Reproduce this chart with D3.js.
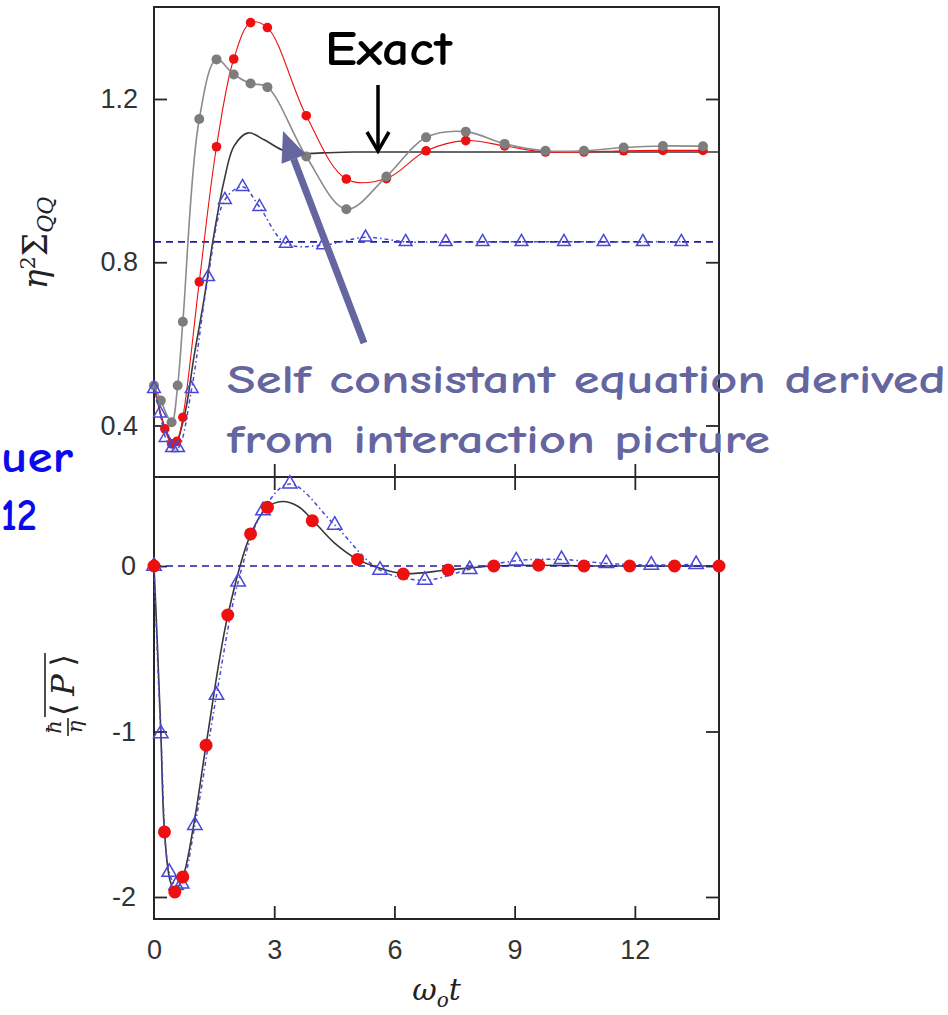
<!DOCTYPE html>
<html>
<head>
<meta charset="utf-8">
<script src="https://cdn.jsdelivr.net/npm/d3@7"></script>
<style>
  html, body { margin: 0; padding: 0; background: #fff; }
  svg { display: block; }
</style>
</head>
<body>
<svg id="chart" width="948" height="1015"></svg>
<script>
// ---------------- DATA ----------------
const xTicks = [0, 3, 6, 9, 12];
const topYTicks = [0.4, 0.8, 1.2];
const botYTicks = [0, -1, -2];

// Top panel: exact (black solid line)
const topExactT = [0, 0.25, 0.5, 0.75, 1.0, 1.25, 1.5, 1.75, 2.0, 2.35, 2.75, 3.2, 3.6, 4.2, 5, 6, 8, 10, 12, 14.1];
const topExactV = [0.5, 0.4, 0.35, 0.42, 0.57, 0.71, 0.87, 1.0, 1.085, 1.117, 1.1, 1.075, 1.066, 1.068, 1.07, 1.07, 1.07, 1.07, 1.07, 1.07];

// Top panel: gray circles
const topGrayT = [0, 0.17, 0.44, 0.59, 0.72, 1.13, 1.56, 1.99, 2.41, 2.83, 3.80, 4.80, 5.80, 6.79, 7.78, 8.75, 9.77, 10.73, 11.72, 12.70, 13.70];
const topGrayV = [0.498, 0.461, 0.408, 0.498, 0.654, 1.151, 1.297, 1.26, 1.238, 1.229, 1.059, 0.930, 1.01, 1.106, 1.12, 1.09, 1.073, 1.073, 1.081, 1.085, 1.084];

// Top panel: red circles
const topRedT = [0, 0.27, 0.44, 0.57, 0.72, 1.13, 1.56, 1.99, 2.41, 2.83, 3.80, 4.80, 5.80, 6.79, 7.78, 8.75, 9.77, 10.73, 11.72, 12.70, 13.70];
const topRedV = [0.5, 0.392, 0.355, 0.361, 0.42, 0.752, 1.083, 1.298, 1.387, 1.375, 1.159, 1.004, 1.005, 1.073, 1.098, 1.085, 1.07, 1.07, 1.073, 1.074, 1.074];

// Top panel: blue triangles
const topTriT = [0, 0.15, 0.29, 0.45, 0.6, 0.94, 1.35, 1.77, 2.21, 2.63, 3.29, 4.22, 5.28, 6.28, 7.28, 8.2, 9.17, 10.23, 11.22, 12.2, 13.16];
const topTriV = [0.49, 0.43, 0.37, 0.345, 0.345, 0.49, 0.764, 0.953, 0.985, 0.936, 0.846, 0.842, 0.861, 0.85, 0.85, 0.85, 0.85, 0.85, 0.85, 0.85, 0.85];
const topDashLevel = 0.85;

// Bottom panel: exact (black solid line)
const botExactT = [0, 0.08, 0.17, 0.26, 0.4, 0.52, 0.72, 1.0, 1.3, 1.84, 2.41, 2.83, 3.2, 3.6, 3.95, 4.5, 5.08, 5.6, 6.22, 7.34, 8.48, 9.6, 11, 12.5, 14.1];
const botExactV = [0, -0.45, -1.0, -1.6, -1.9, -1.96, -1.88, -1.55, -1.08, -0.3, 0.19, 0.355, 0.39, 0.36, 0.28, 0.14, 0.04, -0.01, -0.045, -0.024, 0, 0.005, 0, 0, 0];

// Bottom panel: red circles
const botRedT = [0, 0.26, 0.52, 0.72, 1.30, 1.84, 2.41, 2.83, 3.95, 5.08, 6.22, 7.34, 8.48, 9.6, 10.73, 11.87, 12.99, 14.1];
const botRedV = [0, -1.607, -1.97, -1.879, -1.083, -0.296, 0.194, 0.355, 0.274, 0.04, -0.048, -0.024, 0, 0.005, 0, 0, 0, 0];

// Bottom panel: blue triangles
const botTriT = [0, 0.17, 0.38, 0.55, 0.69, 1.02, 1.56, 2.10, 2.72, 3.39, 4.51, 5.64, 6.76, 7.88, 9.04, 10.17, 11.29, 12.41, 13.53];
const botTriV = [0, -1.012, -1.85, -1.93, -1.92, -1.567, -0.78, -0.095, 0.335, 0.496, 0.248, -0.024, -0.085, -0.02, 0.032, 0.04, 0.016, 0.006, 0.01];
const botDashLevel = 0;

// ---------------- LAYOUT ----------------
const L = 154, R = 719;
const topPanel = { top: 7, bottom: 477 };
const botPanel = { top: 477, bottom: 919 };

const zip = (t, v) => t.map((d, i) => ({ t: d, v: v[i] }));

const svg = d3.select("#chart");

const x = d3.scaleLinear().domain([0, 14.1]).range([L, R]);
const yTop = d3.scaleLinear().domain([0.2738, 1.4254]).range([topPanel.bottom, topPanel.top]);
const yBot = d3.scaleLinear().domain([-2.133, 0.538]).range([botPanel.bottom, botPanel.top]);

const COL = {
  frame: "#262626",
  tickText: "#333",
  black: "#383838",
  gray: "#7d7d7d",
  red: "#ee1010",
  tri: "#4848d8",
  navy: "#1e1ea0",
  annot: "#65669f",
  blue: "#0a0aee"
};

function styleAxis(g, showText) {
  g.select(".domain").remove();
  g.selectAll(".tick line").attr("stroke", COL.frame).attr("stroke-width", 1.8);
  g.selectAll(".tick text")
    .attr("fill", COL.tickText)
    .style("font-family", "'Liberation Sans', Arial, sans-serif")
    .style("font-size", "27px");
  if (!showText) g.selectAll(".tick text").remove();
}

// ---- Top panel axes ----
svg.append("g").attr("transform", `translate(${L},0)`)
  .call(d3.axisLeft(yTop).tickValues(topYTicks).tickSizeInner(-13).tickSizeOuter(0).tickPadding(16).tickFormat(d3.format(".1f")))
  .call(g => styleAxis(g, true));
svg.append("g").attr("transform", `translate(${R},0)`)
  .call(d3.axisRight(yTop).tickValues(topYTicks).tickSizeInner(-13).tickSizeOuter(0))
  .call(g => styleAxis(g, false));
svg.append("g").attr("transform", `translate(0,${topPanel.bottom})`)
  .call(d3.axisBottom(x).tickValues(xTicks.filter(d => d > 0)).tickSizeInner(-13).tickSizeOuter(0))
  .call(g => styleAxis(g, false));

// ---- Bottom panel axes ----
svg.append("g").attr("transform", `translate(${L},0)`)
  .call(d3.axisLeft(yBot).tickValues(botYTicks).tickSizeInner(-13).tickSizeOuter(0).tickPadding(18).tickFormat(d => String(d)))
  .call(g => styleAxis(g, true));
svg.append("g").attr("transform", `translate(${R},0)`)
  .call(d3.axisRight(yBot).tickValues(botYTicks).tickSizeInner(-13).tickSizeOuter(0))
  .call(g => styleAxis(g, false));
svg.append("g").attr("transform", `translate(0,${botPanel.top})`)
  .call(d3.axisTop(x).tickValues(xTicks.filter(d => d > 0)).tickSizeInner(-13).tickSizeOuter(0))
  .call(g => styleAxis(g, false));
const xAxisG = svg.append("g").attr("transform", `translate(0,${botPanel.bottom})`)
  .call(d3.axisBottom(x).tickValues(xTicks).tickSizeInner(-13).tickSizeOuter(0).tickPadding(21).tickFormat(d => String(d)))
  .call(g => styleAxis(g, true));
xAxisG.selectAll(".tick").filter(d => d === 0).select("line").remove();

// ---- frames ----
[topPanel, botPanel].forEach(p => {
  svg.append("rect")
    .attr("x", L).attr("y", p.top)
    .attr("width", R - L).attr("height", p.bottom - p.top)
    .attr("fill", "none").attr("stroke", COL.frame).attr("stroke-width", 2);
});

const curve = d3.curveCatmullRom.alpha(0.5);
const lineTop = d3.line().x(d => x(d.t)).y(d => yTop(d.v)).curve(curve);
const lineBot = d3.line().x(d => x(d.t)).y(d => yBot(d.v)).curve(curve);
const triSym = size => d3.symbol(d3.symbolTriangle, size);

// ---------------- TOP PANEL MARKS ----------------
const gTop = svg.append("g");
gTop.append("path").datum(zip(topExactT, topExactV))
  .attr("d", lineTop).attr("fill", "none").attr("stroke", COL.black).attr("stroke-width", 1.6);

gTop.append("line")
  .attr("x1", x(0)).attr("x2", x(14.1))
  .attr("y1", yTop(topDashLevel)).attr("y2", yTop(topDashLevel))
  .attr("stroke", COL.navy).attr("stroke-width", 1.6).attr("stroke-dasharray", "7,5");

gTop.append("path").datum(zip(topRedT, topRedV))
  .attr("d", lineTop).attr("fill", "none").attr("stroke", COL.red).attr("stroke-width", 1.1);
gTop.selectAll("circle.red").data(zip(topRedT, topRedV).slice(1)).join("circle")
  .attr("class", "red").attr("cx", d => x(d.t)).attr("cy", d => yTop(d.v)).attr("r", 4.8)
  .attr("fill", COL.red);

gTop.append("path").datum(zip(topGrayT, topGrayV))
  .attr("d", lineTop).attr("fill", "none").attr("stroke", "#8c8c8c").attr("stroke-width", 1.6);
gTop.selectAll("circle.gray").data(zip(topGrayT, topGrayV)).join("circle")
  .attr("class", "gray").attr("cx", d => x(d.t)).attr("cy", d => yTop(d.v)).attr("r", 5)
  .attr("fill", COL.gray);

gTop.append("path").datum(zip(topTriT, topTriV))
  .attr("d", lineTop).attr("fill", "none").attr("stroke", COL.tri).attr("stroke-width", 1.5)
  .attr("stroke-dasharray", "4,3,1.5,3");
gTop.selectAll("path.tri").data(zip(topTriT, topTriV)).join("path")
  .attr("class", "tri")
  .attr("transform", d => `translate(${x(d.t)},${yTop(d.v)})`)
  .attr("d", triSym(70)).attr("fill", "none").attr("stroke", COL.tri).attr("stroke-width", 1.5);

// ---------------- BOTTOM PANEL MARKS ----------------
const gBot = svg.append("g");
gBot.append("path").datum(zip(botExactT, botExactV))
  .attr("d", lineBot).attr("fill", "none").attr("stroke", COL.black).attr("stroke-width", 1.6);

gBot.append("line")
  .attr("x1", x(0)).attr("x2", x(14.1))
  .attr("y1", yBot(botDashLevel)).attr("y2", yBot(botDashLevel))
  .attr("stroke", COL.navy).attr("stroke-width", 1.6).attr("stroke-dasharray", "7,5");

gBot.append("path").datum(zip(botTriT, botTriV))
  .attr("d", lineBot).attr("fill", "none").attr("stroke", COL.tri).attr("stroke-width", 1.5)
  .attr("stroke-dasharray", "4,3,1.5,3");
gBot.selectAll("path.tri").data(zip(botTriT, botTriV)).join("path")
  .attr("class", "tri")
  .attr("transform", d => `translate(${x(d.t)},${yBot(d.v)})`)
  .attr("d", triSym(90)).attr("fill", "none").attr("stroke", COL.tri).attr("stroke-width", 1.5);

gBot.selectAll("circle.red").data(zip(botRedT, botRedV)).join("circle")
  .attr("class", "red").attr("cx", d => x(d.t)).attr("cy", d => yBot(d.v)).attr("r", 6.5)
  .attr("fill", COL.red);

// ---------------- AXIS TITLES ----------------
const serif = "'DejaVu Serif', 'Liberation Serif', serif";

// top y label: eta^2 Sigma_QQ
const tl = svg.append("text")
  .attr("transform", "translate(47,243) rotate(-90)")
  .attr("text-anchor", "middle")
  .attr("fill", "#222")
  .style("font-family", serif);
tl.append("tspan").text("η").style("font-style", "italic").style("font-size", "33px");
tl.append("tspan").text("2").attr("dy", -12).style("font-size", "21px");
tl.append("tspan").text("Σ").attr("dy", 12).style("font-size", "33px");
tl.append("tspan").text("QQ").attr("dy", 6).style("font-style", "italic").style("font-size", "22px");

// bottom y label: (hbar / eta) overline<P>
const bl = svg.append("g").attr("transform", "translate(66,698) rotate(-90)").attr("fill", "#222");
bl.append("text").attr("x", -29).attr("y", -5).attr("text-anchor", "middle")
  .style("font-family", serif).style("font-style", "italic").style("font-size", "21px").text("ħ");
bl.append("line").attr("x1", -38).attr("x2", -20).attr("y1", 2).attr("y2", 2)
  .attr("stroke", "#222").attr("stroke-width", 1.6);
bl.append("text").attr("x", -29).attr("y", 16).attr("text-anchor", "middle")
  .style("font-family", serif).style("font-style", "italic").style("font-size", "21px").text("η");
const pt = bl.append("text").attr("x", -18).attr("y", 8)
  .attr("textLength", 62).attr("lengthAdjust", "spacing")
  .style("font-family", serif).style("font-size", "32px");
pt.append("tspan").text("⟨");
pt.append("tspan").text("P").style("font-style", "italic");
pt.append("tspan").text("⟩");
bl.append("line").attr("x1", -19).attr("x2", 45).attr("y1", -21).attr("y2", -21)
  .attr("stroke", "#222").attr("stroke-width", 1.6);

// x label: omega_o t
const xl = svg.append("text")
  .attr("x", (L + R) / 2).attr("y", 1000)
  .attr("text-anchor", "middle").attr("fill", "#222")
  .style("font-family", serif).style("font-style", "italic");
xl.append("tspan").text("ω").style("font-size", "30px");
xl.append("tspan").text("o").attr("dy", 7).style("font-size", "20px");
xl.append("tspan").text("t").attr("dy", -7).style("font-size", "30px");

// ---------------- ANNOTATIONS ----------------
const comic = "'Comic Sans MS', 'Comic Neue', 'DejaVu Sans', sans-serif";

svg.append("text").attr("x", 325).attr("y", 65)
  .attr("textLength", 127).attr("lengthAdjust", "spacingAndGlyphs")
  .attr("fill", "#000").style("font-family", comic).style("font-weight", "bold")
  .style("font-size", "48px").text("Exact");

// black arrow pointing down to exact curve
svg.append("line").attr("x1", 378).attr("x2", 378).attr("y1", 85).attr("y2", 150)
  .attr("stroke", "#000").attr("stroke-width", 3.5);
svg.append("path").attr("d", "M367,132 L378,151 L389,132")
  .attr("fill", "none").attr("stroke", "#000").attr("stroke-width", 3.5).attr("stroke-linejoin", "miter");

// slate-blue arrow
const ax0 = 364, ay0 = 343, ax1 = 283, ay1 = 131;
const ang = Math.atan2(ay1 - ay0, ax1 - ax0);
const headLen = 30, headW = 13;
const bx = ax1 - headLen * Math.cos(ang), by = ay1 - headLen * Math.sin(ang);
svg.append("line").attr("x1", ax0).attr("y1", ay0).attr("x2", bx).attr("y2", by)
  .attr("stroke", COL.annot).attr("stroke-width", 7);
svg.append("path")
  .attr("d", `M${ax1},${ay1} L${bx + headW * Math.sin(ang)},${by - headW * Math.cos(ang)} L${bx - headW * Math.sin(ang)},${by + headW * Math.cos(ang)} Z`)
  .attr("fill", COL.annot);

svg.append("text").attr("x", 227).attr("y", 393)
  .attr("textLength", 719).attr("lengthAdjust", "spacingAndGlyphs")
  .attr("fill", COL.annot).style("font-family", comic).style("font-weight", "bold")
  .style("font-size", "41px")
  .text("Self consistant equation derived");
svg.append("text").attr("x", 227).attr("y", 453)
  .attr("textLength", 543).attr("lengthAdjust", "spacingAndGlyphs")
  .attr("fill", COL.annot).style("font-family", comic).style("font-weight", "bold")
  .style("font-size", "41px")
  .text("from interaction picture");

// blue text fragments at the left edge
svg.append("text").attr("x", 1).attr("y", 472)
  .attr("textLength", 72).attr("lengthAdjust", "spacingAndGlyphs")
  .attr("fill", COL.blue).style("font-family", comic).style("font-weight", "bold")
  .style("font-size", "45px").text("uer");
svg.append("text").attr("x", 1).attr("y", 530)
  .attr("textLength", 36).attr("lengthAdjust", "spacingAndGlyphs")
  .attr("fill", COL.blue).style("font-family", comic).style("font-weight", "bold")
  .style("font-size", "45px").text("12");
</script>
</body>
</html>
